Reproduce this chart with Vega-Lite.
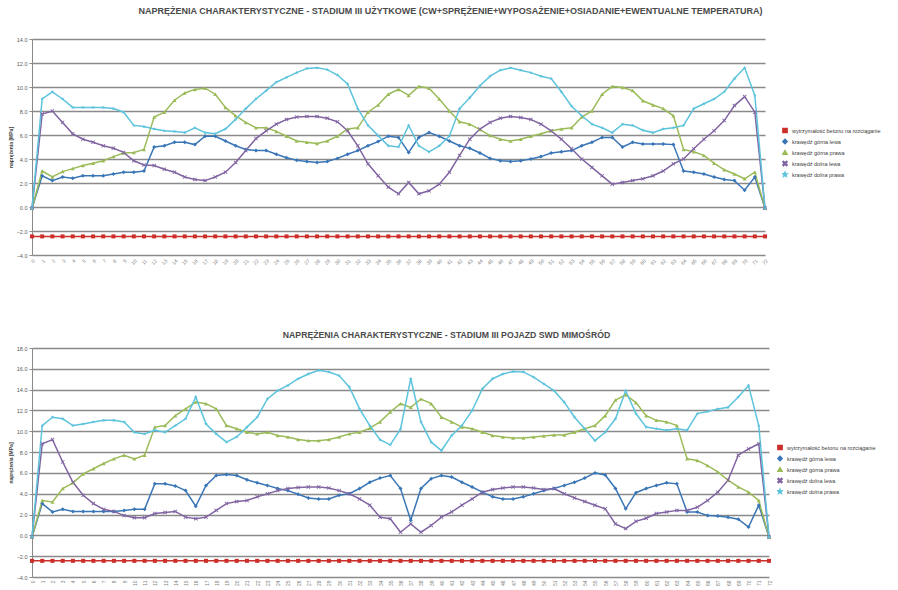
{
"$schema": "https://vega.github.io/schema/vega-lite/v6.json",
"background": "white",
"padding": {"left": 8, "top": 7, "right": 3, "bottom": 0},
"spacing": 65,
"config": {
  "view": {"stroke": null},
  "font": "Liberation Sans",
  "axis": {"labelColor": "#595959", "domainColor": "#8a8a8a", "tickColor": "#8a8a8a", "gridColor": "#8a8a8a", "gridWidth": 1.3, "titleColor": "#404040", "labelFontSize": 5.5, "tickSize": 3},
  "legend": {"labelFontSize": 5.5, "labelColor": "#404040", "symbolSize": 18, "rowPadding": 0, "labelLimit": 200, "title": null, "clipHeight": 11}
},
"resolve": {"scale": {"color": "independent", "shape": "independent"}, "legend": {"color": "independent", "shape": "independent"}},
"datasets": {
"t": [
{"x":0,"s":"a","v":-2.45},{"x":1,"s":"a","v":-2.45},{"x":2,"s":"a","v":-2.45},{"x":3,"s":"a","v":-2.45},{"x":4,"s":"a","v":-2.45},{"x":5,"s":"a","v":-2.45},{"x":6,"s":"a","v":-2.45},{"x":7,"s":"a","v":-2.45},{"x":8,"s":"a","v":-2.45},{"x":9,"s":"a","v":-2.45},
{"x":10,"s":"a","v":-2.45},{"x":11,"s":"a","v":-2.45},{"x":12,"s":"a","v":-2.45},{"x":13,"s":"a","v":-2.45},{"x":14,"s":"a","v":-2.45},{"x":15,"s":"a","v":-2.45},{"x":16,"s":"a","v":-2.45},{"x":17,"s":"a","v":-2.45},{"x":18,"s":"a","v":-2.45},{"x":19,"s":"a","v":-2.45},
{"x":20,"s":"a","v":-2.45},{"x":21,"s":"a","v":-2.45},{"x":22,"s":"a","v":-2.45},{"x":23,"s":"a","v":-2.45},{"x":24,"s":"a","v":-2.45},{"x":25,"s":"a","v":-2.45},{"x":26,"s":"a","v":-2.45},{"x":27,"s":"a","v":-2.45},{"x":28,"s":"a","v":-2.45},{"x":29,"s":"a","v":-2.45},
{"x":30,"s":"a","v":-2.45},{"x":31,"s":"a","v":-2.45},{"x":32,"s":"a","v":-2.45},{"x":33,"s":"a","v":-2.45},{"x":34,"s":"a","v":-2.45},{"x":35,"s":"a","v":-2.45},{"x":36,"s":"a","v":-2.45},{"x":37,"s":"a","v":-2.45},{"x":38,"s":"a","v":-2.45},{"x":39,"s":"a","v":-2.45},
{"x":40,"s":"a","v":-2.45},{"x":41,"s":"a","v":-2.45},{"x":42,"s":"a","v":-2.45},{"x":43,"s":"a","v":-2.45},{"x":44,"s":"a","v":-2.45},{"x":45,"s":"a","v":-2.45},{"x":46,"s":"a","v":-2.45},{"x":47,"s":"a","v":-2.45},{"x":48,"s":"a","v":-2.45},{"x":49,"s":"a","v":-2.45},
{"x":50,"s":"a","v":-2.45},{"x":51,"s":"a","v":-2.45},{"x":52,"s":"a","v":-2.45},{"x":53,"s":"a","v":-2.45},{"x":54,"s":"a","v":-2.45},{"x":55,"s":"a","v":-2.45},{"x":56,"s":"a","v":-2.45},{"x":57,"s":"a","v":-2.45},{"x":58,"s":"a","v":-2.45},{"x":59,"s":"a","v":-2.45},
{"x":60,"s":"a","v":-2.45},{"x":61,"s":"a","v":-2.45},{"x":62,"s":"a","v":-2.45},{"x":63,"s":"a","v":-2.45},{"x":64,"s":"a","v":-2.45},{"x":65,"s":"a","v":-2.45},{"x":66,"s":"a","v":-2.45},{"x":67,"s":"a","v":-2.45},{"x":68,"s":"a","v":-2.45},{"x":69,"s":"a","v":-2.45},
{"x":70,"s":"a","v":-2.45},{"x":71,"s":"a","v":-2.45},{"x":72,"s":"a","v":-2.45},
{"x":0,"s":"b","v":-0.1},{"x":1,"s":"b","v":2.6},{"x":2,"s":"b","v":2.2},{"x":3,"s":"b","v":2.5},{"x":4,"s":"b","v":2.4},{"x":5,"s":"b","v":2.6},{"x":6,"s":"b","v":2.6},{"x":7,"s":"b","v":2.6},{"x":8,"s":"b","v":2.75},{"x":9,"s":"b","v":2.9},
{"x":10,"s":"b","v":2.9},{"x":11,"s":"b","v":3.0},{"x":12,"s":"b","v":5.0},{"x":13,"s":"b","v":5.1},{"x":14,"s":"b","v":5.4},{"x":15,"s":"b","v":5.4},{"x":16,"s":"b","v":5.2},{"x":17,"s":"b","v":5.9},{"x":18,"s":"b","v":5.9},{"x":19,"s":"b","v":5.5},
{"x":20,"s":"b","v":5.1},{"x":21,"s":"b","v":4.8},{"x":22,"s":"b","v":4.7},{"x":23,"s":"b","v":4.7},{"x":24,"s":"b","v":4.4},{"x":25,"s":"b","v":4.1},{"x":26,"s":"b","v":3.9},{"x":27,"s":"b","v":3.8},{"x":28,"s":"b","v":3.7},{"x":29,"s":"b","v":3.8},
{"x":30,"s":"b","v":4.05},{"x":31,"s":"b","v":4.4},{"x":32,"s":"b","v":4.7},{"x":33,"s":"b","v":5.1},{"x":34,"s":"b","v":5.45},{"x":35,"s":"b","v":5.9},{"x":36,"s":"b","v":5.8},{"x":37,"s":"b","v":4.55},{"x":38,"s":"b","v":5.8},{"x":39,"s":"b","v":6.2},
{"x":40,"s":"b","v":5.9},{"x":41,"s":"b","v":5.5},{"x":42,"s":"b","v":5.1},{"x":43,"s":"b","v":4.9},{"x":44,"s":"b","v":4.5},{"x":45,"s":"b","v":4.05},{"x":46,"s":"b","v":3.85},{"x":47,"s":"b","v":3.8},{"x":48,"s":"b","v":3.85},{"x":49,"s":"b","v":4.0},
{"x":50,"s":"b","v":4.2},{"x":51,"s":"b","v":4.5},{"x":52,"s":"b","v":4.6},{"x":53,"s":"b","v":4.7},{"x":54,"s":"b","v":5.1},{"x":55,"s":"b","v":5.4},{"x":56,"s":"b","v":5.8},{"x":57,"s":"b","v":5.8},{"x":58,"s":"b","v":5.0},{"x":59,"s":"b","v":5.4},
{"x":60,"s":"b","v":5.25},{"x":61,"s":"b","v":5.25},{"x":62,"s":"b","v":5.25},{"x":63,"s":"b","v":5.2},{"x":64,"s":"b","v":3.0},{"x":65,"s":"b","v":2.9},{"x":66,"s":"b","v":2.75},{"x":67,"s":"b","v":2.5},{"x":68,"s":"b","v":2.3},{"x":69,"s":"b","v":2.2},
{"x":70,"s":"b","v":1.4},{"x":71,"s":"b","v":2.5},{"x":72,"s":"b","v":-0.1},
{"x":0,"s":"c","v":-0.1},{"x":1,"s":"c","v":3.0},{"x":2,"s":"c","v":2.5},{"x":3,"s":"c","v":2.95},{"x":4,"s":"c","v":3.2},{"x":5,"s":"c","v":3.45},{"x":6,"s":"c","v":3.65},{"x":7,"s":"c","v":3.85},{"x":8,"s":"c","v":4.2},{"x":9,"s":"c","v":4.5},
{"x":10,"s":"c","v":4.55},{"x":11,"s":"c","v":4.8},{"x":12,"s":"c","v":7.5},{"x":13,"s":"c","v":7.9},{"x":14,"s":"c","v":8.9},{"x":15,"s":"c","v":9.5},{"x":16,"s":"c","v":9.8},{"x":17,"s":"c","v":9.9},{"x":18,"s":"c","v":9.4},{"x":19,"s":"c","v":8.3},
{"x":20,"s":"c","v":7.6},{"x":21,"s":"c","v":7.05},{"x":22,"s":"c","v":6.6},{"x":23,"s":"c","v":6.6},{"x":24,"s":"c","v":6.3},{"x":25,"s":"c","v":5.9},{"x":26,"s":"c","v":5.5},{"x":27,"s":"c","v":5.4},{"x":28,"s":"c","v":5.3},{"x":29,"s":"c","v":5.5},
{"x":30,"s":"c","v":5.9},{"x":31,"s":"c","v":6.5},{"x":32,"s":"c","v":6.6},{"x":33,"s":"c","v":7.9},{"x":34,"s":"c","v":8.5},{"x":35,"s":"c","v":9.4},{"x":36,"s":"c","v":9.8},{"x":37,"s":"c","v":9.3},{"x":38,"s":"c","v":10.05},{"x":39,"s":"c","v":9.9},
{"x":40,"s":"c","v":9.0},{"x":41,"s":"c","v":8.0},{"x":42,"s":"c","v":7.1},{"x":43,"s":"c","v":6.9},{"x":44,"s":"c","v":6.45},{"x":45,"s":"c","v":5.95},{"x":46,"s":"c","v":5.65},{"x":47,"s":"c","v":5.5},{"x":48,"s":"c","v":5.65},{"x":49,"s":"c","v":5.9},
{"x":50,"s":"c","v":6.1},{"x":51,"s":"c","v":6.35},{"x":52,"s":"c","v":6.5},{"x":53,"s":"c","v":6.6},{"x":54,"s":"c","v":7.5},{"x":55,"s":"c","v":8.0},{"x":56,"s":"c","v":9.4},{"x":57,"s":"c","v":10.05},{"x":58,"s":"c","v":9.95},{"x":59,"s":"c","v":9.7},
{"x":60,"s":"c","v":8.85},{"x":61,"s":"c","v":8.5},{"x":62,"s":"c","v":8.2},{"x":63,"s":"c","v":7.6},{"x":64,"s":"c","v":4.8},{"x":65,"s":"c","v":4.6},{"x":66,"s":"c","v":4.3},{"x":67,"s":"c","v":3.65},{"x":68,"s":"c","v":3.1},{"x":69,"s":"c","v":2.75},
{"x":70,"s":"c","v":2.35},{"x":71,"s":"c","v":2.9},{"x":72,"s":"c","v":-0.1},
{"x":0,"s":"d","v":-0.1},{"x":1,"s":"d","v":7.75},{"x":2,"s":"d","v":8.0},{"x":3,"s":"d","v":7.05},{"x":4,"s":"d","v":6.1},{"x":5,"s":"d","v":5.65},{"x":6,"s":"d","v":5.4},{"x":7,"s":"d","v":5.1},{"x":8,"s":"d","v":4.9},{"x":9,"s":"d","v":4.55},
{"x":10,"s":"d","v":3.85},{"x":11,"s":"d","v":3.5},{"x":12,"s":"d","v":3.45},{"x":13,"s":"d","v":3.15},{"x":14,"s":"d","v":2.9},{"x":15,"s":"d","v":2.5},{"x":16,"s":"d","v":2.3},{"x":17,"s":"d","v":2.2},{"x":18,"s":"d","v":2.5},{"x":19,"s":"d","v":2.9},
{"x":20,"s":"d","v":3.7},{"x":21,"s":"d","v":4.7},{"x":22,"s":"d","v":5.7},{"x":23,"s":"d","v":6.35},{"x":24,"s":"d","v":6.9},{"x":25,"s":"d","v":7.3},{"x":26,"s":"d","v":7.5},{"x":27,"s":"d","v":7.55},{"x":28,"s":"d","v":7.55},{"x":29,"s":"d","v":7.4},
{"x":30,"s":"d","v":7.1},{"x":31,"s":"d","v":6.35},{"x":32,"s":"d","v":5.1},{"x":33,"s":"d","v":3.6},{"x":34,"s":"d","v":2.6},{"x":35,"s":"d","v":1.65},{"x":36,"s":"d","v":1.1},{"x":37,"s":"d","v":2.05},{"x":38,"s":"d","v":1.1},{"x":39,"s":"d","v":1.35},
{"x":40,"s":"d","v":1.9},{"x":41,"s":"d","v":2.9},{"x":42,"s":"d","v":4.3},{"x":43,"s":"d","v":5.65},{"x":44,"s":"d","v":6.5},{"x":45,"s":"d","v":7.05},{"x":46,"s":"d","v":7.4},{"x":47,"s":"d","v":7.55},{"x":48,"s":"d","v":7.45},{"x":49,"s":"d","v":7.3},
{"x":50,"s":"d","v":6.9},{"x":51,"s":"d","v":6.35},{"x":52,"s":"d","v":5.65},{"x":53,"s":"d","v":4.85},{"x":54,"s":"d","v":4.0},{"x":55,"s":"d","v":3.3},{"x":56,"s":"d","v":2.6},{"x":57,"s":"d","v":1.9},{"x":58,"s":"d","v":2.05},{"x":59,"s":"d","v":2.2},
{"x":60,"s":"d","v":2.35},{"x":61,"s":"d","v":2.6},{"x":62,"s":"d","v":3.0},{"x":63,"s":"d","v":3.6},{"x":64,"s":"d","v":4.0},{"x":65,"s":"d","v":4.85},{"x":66,"s":"d","v":5.65},{"x":67,"s":"d","v":6.35},{"x":68,"s":"d","v":7.2},{"x":69,"s":"d","v":8.45},
{"x":70,"s":"d","v":9.2},{"x":71,"s":"d","v":7.9},{"x":72,"s":"d","v":-0.1},
{"x":0,"s":"e","v":-0.1},{"x":1,"s":"e","v":9.0},{"x":2,"s":"e","v":9.6},{"x":3,"s":"e","v":9.0},{"x":4,"s":"e","v":8.3},{"x":5,"s":"e","v":8.3},{"x":6,"s":"e","v":8.3},{"x":7,"s":"e","v":8.3},{"x":8,"s":"e","v":8.2},{"x":9,"s":"e","v":7.9},
{"x":10,"s":"e","v":6.8},{"x":11,"s":"e","v":6.7},{"x":12,"s":"e","v":6.5},{"x":13,"s":"e","v":6.35},{"x":14,"s":"e","v":6.3},{"x":15,"s":"e","v":6.2},{"x":16,"s":"e","v":6.6},{"x":17,"s":"e","v":6.2},{"x":18,"s":"e","v":6.1},{"x":19,"s":"e","v":6.5},
{"x":20,"s":"e","v":7.3},{"x":21,"s":"e","v":8.2},{"x":22,"s":"e","v":9.0},{"x":23,"s":"e","v":9.7},{"x":24,"s":"e","v":10.4},{"x":25,"s":"e","v":10.8},{"x":26,"s":"e","v":11.2},{"x":27,"s":"e","v":11.55},{"x":28,"s":"e","v":11.6},{"x":29,"s":"e","v":11.45},
{"x":30,"s":"e","v":11.0},{"x":31,"s":"e","v":10.25},{"x":32,"s":"e","v":8.2},{"x":33,"s":"e","v":6.8},{"x":34,"s":"e","v":5.95},{"x":35,"s":"e","v":5.1},{"x":36,"s":"e","v":5.0},{"x":37,"s":"e","v":6.8},{"x":38,"s":"e","v":5.1},{"x":39,"s":"e","v":4.6},
{"x":40,"s":"e","v":5.1},{"x":41,"s":"e","v":5.9},{"x":42,"s":"e","v":8.2},{"x":43,"s":"e","v":9.1},{"x":44,"s":"e","v":10.1},{"x":45,"s":"e","v":10.9},{"x":46,"s":"e","v":11.4},{"x":47,"s":"e","v":11.6},{"x":48,"s":"e","v":11.4},{"x":49,"s":"e","v":11.2},
{"x":50,"s":"e","v":10.9},{"x":51,"s":"e","v":10.7},{"x":52,"s":"e","v":9.6},{"x":53,"s":"e","v":8.4},{"x":54,"s":"e","v":7.6},{"x":55,"s":"e","v":6.9},{"x":56,"s":"e","v":6.6},{"x":57,"s":"e","v":6.2},{"x":58,"s":"e","v":6.9},{"x":59,"s":"e","v":6.8},
{"x":60,"s":"e","v":6.4},{"x":61,"s":"e","v":6.2},{"x":62,"s":"e","v":6.5},{"x":63,"s":"e","v":6.6},{"x":64,"s":"e","v":6.8},{"x":65,"s":"e","v":8.2},{"x":66,"s":"e","v":8.6},{"x":67,"s":"e","v":9.0},{"x":68,"s":"e","v":9.6},{"x":69,"s":"e","v":10.7},
{"x":70,"s":"e","v":11.6},{"x":71,"s":"e","v":9.3},{"x":72,"s":"e","v":-0.1}
],
"b": [
{"x":0,"s":"a","v":-2.45},{"x":1,"s":"a","v":-2.45},{"x":2,"s":"a","v":-2.45},{"x":3,"s":"a","v":-2.45},{"x":4,"s":"a","v":-2.45},{"x":5,"s":"a","v":-2.45},{"x":6,"s":"a","v":-2.45},{"x":7,"s":"a","v":-2.45},{"x":8,"s":"a","v":-2.45},{"x":9,"s":"a","v":-2.45},
{"x":10,"s":"a","v":-2.45},{"x":11,"s":"a","v":-2.45},{"x":12,"s":"a","v":-2.45},{"x":13,"s":"a","v":-2.45},{"x":14,"s":"a","v":-2.45},{"x":15,"s":"a","v":-2.45},{"x":16,"s":"a","v":-2.45},{"x":17,"s":"a","v":-2.45},{"x":18,"s":"a","v":-2.45},{"x":19,"s":"a","v":-2.45},
{"x":20,"s":"a","v":-2.45},{"x":21,"s":"a","v":-2.45},{"x":22,"s":"a","v":-2.45},{"x":23,"s":"a","v":-2.45},{"x":24,"s":"a","v":-2.45},{"x":25,"s":"a","v":-2.45},{"x":26,"s":"a","v":-2.45},{"x":27,"s":"a","v":-2.45},{"x":28,"s":"a","v":-2.45},{"x":29,"s":"a","v":-2.45},
{"x":30,"s":"a","v":-2.45},{"x":31,"s":"a","v":-2.45},{"x":32,"s":"a","v":-2.45},{"x":33,"s":"a","v":-2.45},{"x":34,"s":"a","v":-2.45},{"x":35,"s":"a","v":-2.45},{"x":36,"s":"a","v":-2.45},{"x":37,"s":"a","v":-2.45},{"x":38,"s":"a","v":-2.45},{"x":39,"s":"a","v":-2.45},
{"x":40,"s":"a","v":-2.45},{"x":41,"s":"a","v":-2.45},{"x":42,"s":"a","v":-2.45},{"x":43,"s":"a","v":-2.45},{"x":44,"s":"a","v":-2.45},{"x":45,"s":"a","v":-2.45},{"x":46,"s":"a","v":-2.45},{"x":47,"s":"a","v":-2.45},{"x":48,"s":"a","v":-2.45},{"x":49,"s":"a","v":-2.45},
{"x":50,"s":"a","v":-2.45},{"x":51,"s":"a","v":-2.45},{"x":52,"s":"a","v":-2.45},{"x":53,"s":"a","v":-2.45},{"x":54,"s":"a","v":-2.45},{"x":55,"s":"a","v":-2.45},{"x":56,"s":"a","v":-2.45},{"x":57,"s":"a","v":-2.45},{"x":58,"s":"a","v":-2.45},{"x":59,"s":"a","v":-2.45},
{"x":60,"s":"a","v":-2.45},{"x":61,"s":"a","v":-2.45},{"x":62,"s":"a","v":-2.45},{"x":63,"s":"a","v":-2.45},{"x":64,"s":"a","v":-2.45},{"x":65,"s":"a","v":-2.45},{"x":66,"s":"a","v":-2.45},{"x":67,"s":"a","v":-2.45},{"x":68,"s":"a","v":-2.45},{"x":69,"s":"a","v":-2.45},
{"x":70,"s":"a","v":-2.45},{"x":71,"s":"a","v":-2.45},{"x":72,"s":"a","v":-2.45},
{"x":0,"s":"b","v":-0.15},{"x":1,"s":"b","v":3.05},{"x":2,"s":"b","v":2.25},{"x":3,"s":"b","v":2.5},{"x":4,"s":"b","v":2.3},{"x":5,"s":"b","v":2.3},{"x":6,"s":"b","v":2.3},{"x":7,"s":"b","v":2.3},{"x":8,"s":"b","v":2.3},{"x":9,"s":"b","v":2.4},
{"x":10,"s":"b","v":2.5},{"x":11,"s":"b","v":2.5},{"x":12,"s":"b","v":4.95},{"x":13,"s":"b","v":4.95},{"x":14,"s":"b","v":4.75},{"x":15,"s":"b","v":4.3},{"x":16,"s":"b","v":2.8},{"x":17,"s":"b","v":4.8},{"x":18,"s":"b","v":5.75},{"x":19,"s":"b","v":5.85},
{"x":20,"s":"b","v":5.75},{"x":21,"s":"b","v":5.35},{"x":22,"s":"b","v":5.05},{"x":23,"s":"b","v":4.8},{"x":24,"s":"b","v":4.5},{"x":25,"s":"b","v":4.3},{"x":26,"s":"b","v":3.95},{"x":27,"s":"b","v":3.6},{"x":28,"s":"b","v":3.5},{"x":29,"s":"b","v":3.5},
{"x":30,"s":"b","v":3.85},{"x":31,"s":"b","v":4.0},{"x":32,"s":"b","v":4.5},{"x":33,"s":"b","v":5.1},{"x":34,"s":"b","v":5.5},{"x":35,"s":"b","v":5.75},{"x":36,"s":"b","v":4.5},{"x":37,"s":"b","v":1.45},{"x":38,"s":"b","v":4.5},{"x":39,"s":"b","v":5.45},
{"x":40,"s":"b","v":5.75},{"x":41,"s":"b","v":5.6},{"x":42,"s":"b","v":5.1},{"x":43,"s":"b","v":4.65},{"x":44,"s":"b","v":4.15},{"x":45,"s":"b","v":3.7},{"x":46,"s":"b","v":3.5},{"x":47,"s":"b","v":3.5},{"x":48,"s":"b","v":3.7},{"x":49,"s":"b","v":4.0},
{"x":50,"s":"b","v":4.3},{"x":51,"s":"b","v":4.5},{"x":52,"s":"b","v":4.8},{"x":53,"s":"b","v":5.1},{"x":54,"s":"b","v":5.5},{"x":55,"s":"b","v":6.0},{"x":56,"s":"b","v":5.8},{"x":57,"s":"b","v":4.5},{"x":58,"s":"b","v":2.55},{"x":59,"s":"b","v":4.1},
{"x":60,"s":"b","v":4.5},{"x":61,"s":"b","v":4.8},{"x":62,"s":"b","v":5.05},{"x":63,"s":"b","v":4.95},{"x":64,"s":"b","v":2.25},{"x":65,"s":"b","v":2.25},{"x":66,"s":"b","v":1.9},{"x":67,"s":"b","v":1.85},{"x":68,"s":"b","v":1.75},{"x":69,"s":"b","v":1.55},
{"x":70,"s":"b","v":0.8},{"x":71,"s":"b","v":2.9},{"x":72,"s":"b","v":-0.15},
{"x":0,"s":"c","v":-0.15},{"x":1,"s":"c","v":3.35},{"x":2,"s":"c","v":3.2},{"x":3,"s":"c","v":4.5},{"x":4,"s":"c","v":5.05},{"x":5,"s":"c","v":5.9},{"x":6,"s":"c","v":6.4},{"x":7,"s":"c","v":6.9},{"x":8,"s":"c","v":7.35},{"x":9,"s":"c","v":7.7},
{"x":10,"s":"c","v":7.35},{"x":11,"s":"c","v":7.7},{"x":12,"s":"c","v":10.4},{"x":13,"s":"c","v":10.55},{"x":14,"s":"c","v":11.5},{"x":15,"s":"c","v":12.15},{"x":16,"s":"c","v":12.8},{"x":17,"s":"c","v":12.65},{"x":18,"s":"c","v":12.15},{"x":19,"s":"c","v":10.55},
{"x":20,"s":"c","v":10.25},{"x":21,"s":"c","v":9.9},{"x":22,"s":"c","v":9.75},{"x":23,"s":"c","v":9.9},{"x":24,"s":"c","v":9.6},{"x":25,"s":"c","v":9.45},{"x":26,"s":"c","v":9.2},{"x":27,"s":"c","v":9.1},{"x":28,"s":"c","v":9.1},{"x":29,"s":"c","v":9.2},
{"x":30,"s":"c","v":9.45},{"x":31,"s":"c","v":9.75},{"x":32,"s":"c","v":9.9},{"x":33,"s":"c","v":10.3},{"x":34,"s":"c","v":10.9},{"x":35,"s":"c","v":11.85},{"x":36,"s":"c","v":12.65},{"x":37,"s":"c","v":12.3},{"x":38,"s":"c","v":13.1},{"x":39,"s":"c","v":12.65},
{"x":40,"s":"c","v":11.35},{"x":41,"s":"c","v":10.9},{"x":42,"s":"c","v":10.4},{"x":43,"s":"c","v":10.25},{"x":44,"s":"c","v":9.9},{"x":45,"s":"c","v":9.6},{"x":46,"s":"c","v":9.45},{"x":47,"s":"c","v":9.35},{"x":48,"s":"c","v":9.35},{"x":49,"s":"c","v":9.45},
{"x":50,"s":"c","v":9.55},{"x":51,"s":"c","v":9.65},{"x":52,"s":"c","v":9.65},{"x":53,"s":"c","v":9.9},{"x":54,"s":"c","v":10.25},{"x":55,"s":"c","v":10.55},{"x":56,"s":"c","v":11.5},{"x":57,"s":"c","v":13.0},{"x":58,"s":"c","v":13.5},{"x":59,"s":"c","v":12.75},
{"x":60,"s":"c","v":11.5},{"x":61,"s":"c","v":11.05},{"x":62,"s":"c","v":10.9},{"x":63,"s":"c","v":10.55},{"x":64,"s":"c","v":7.35},{"x":65,"s":"c","v":7.2},{"x":66,"s":"c","v":6.7},{"x":67,"s":"c","v":6.1},{"x":68,"s":"c","v":5.3},{"x":69,"s":"c","v":4.65},
{"x":70,"s":"c","v":4.15},{"x":71,"s":"c","v":3.35},{"x":72,"s":"c","v":-0.15},
{"x":0,"s":"d","v":-0.15},{"x":1,"s":"d","v":8.8},{"x":2,"s":"d","v":9.2},{"x":3,"s":"d","v":7.05},{"x":4,"s":"d","v":5.1},{"x":5,"s":"d","v":3.85},{"x":6,"s":"d","v":3.05},{"x":7,"s":"d","v":2.5},{"x":8,"s":"d","v":2.3},{"x":9,"s":"d","v":1.9},
{"x":10,"s":"d","v":1.7},{"x":11,"s":"d","v":1.7},{"x":12,"s":"d","v":2.1},{"x":13,"s":"d","v":2.2},{"x":14,"s":"d","v":2.3},{"x":15,"s":"d","v":1.75},{"x":16,"s":"d","v":1.6},{"x":17,"s":"d","v":1.75},{"x":18,"s":"d","v":2.4},{"x":19,"s":"d","v":3.05},
{"x":20,"s":"d","v":3.25},{"x":21,"s":"d","v":3.35},{"x":22,"s":"d","v":3.7},{"x":23,"s":"d","v":4.0},{"x":24,"s":"d","v":4.3},{"x":25,"s":"d","v":4.5},{"x":26,"s":"d","v":4.6},{"x":27,"s":"d","v":4.65},{"x":28,"s":"d","v":4.65},{"x":29,"s":"d","v":4.55},
{"x":30,"s":"d","v":4.3},{"x":31,"s":"d","v":4.0},{"x":32,"s":"d","v":3.5},{"x":33,"s":"d","v":2.9},{"x":34,"s":"d","v":1.75},{"x":35,"s":"d","v":1.6},{"x":36,"s":"d","v":0.3},{"x":37,"s":"d","v":1.1},{"x":38,"s":"d","v":0.3},{"x":39,"s":"d","v":0.95},
{"x":40,"s":"d","v":1.75},{"x":41,"s":"d","v":2.25},{"x":42,"s":"d","v":2.9},{"x":43,"s":"d","v":3.5},{"x":44,"s":"d","v":4.15},{"x":45,"s":"d","v":4.4},{"x":46,"s":"d","v":4.55},{"x":47,"s":"d","v":4.65},{"x":48,"s":"d","v":4.65},{"x":49,"s":"d","v":4.55},
{"x":50,"s":"d","v":4.4},{"x":51,"s":"d","v":4.5},{"x":52,"s":"d","v":4.0},{"x":53,"s":"d","v":3.6},{"x":54,"s":"d","v":3.25},{"x":55,"s":"d","v":2.9},{"x":56,"s":"d","v":2.55},{"x":57,"s":"d","v":1.1},{"x":58,"s":"d","v":0.65},{"x":59,"s":"d","v":1.35},
{"x":60,"s":"d","v":1.65},{"x":61,"s":"d","v":2.1},{"x":62,"s":"d","v":2.25},{"x":63,"s":"d","v":2.4},{"x":64,"s":"d","v":2.4},{"x":65,"s":"d","v":2.7},{"x":66,"s":"d","v":3.35},{"x":67,"s":"d","v":4.15},{"x":68,"s":"d","v":5.3},{"x":69,"s":"d","v":7.7},
{"x":70,"s":"d","v":8.3},{"x":71,"s":"d","v":8.8},{"x":72,"s":"d","v":-0.15},
{"x":0,"s":"e","v":-0.15},{"x":1,"s":"e","v":10.55},{"x":2,"s":"e","v":11.35},{"x":3,"s":"e","v":11.2},{"x":4,"s":"e","v":10.55},{"x":5,"s":"e","v":10.7},{"x":6,"s":"e","v":10.9},{"x":7,"s":"e","v":11.05},{"x":8,"s":"e","v":11.05},{"x":9,"s":"e","v":10.9},
{"x":10,"s":"e","v":9.9},{"x":11,"s":"e","v":9.75},{"x":12,"s":"e","v":10.1},{"x":13,"s":"e","v":9.9},{"x":14,"s":"e","v":10.55},{"x":15,"s":"e","v":11.2},{"x":16,"s":"e","v":13.3},{"x":17,"s":"e","v":10.7},{"x":18,"s":"e","v":9.75},{"x":19,"s":"e","v":8.95},
{"x":20,"s":"e","v":9.45},{"x":21,"s":"e","v":10.4},{"x":22,"s":"e","v":11.35},{"x":23,"s":"e","v":13.1},{"x":24,"s":"e","v":13.9},{"x":25,"s":"e","v":14.4},{"x":26,"s":"e","v":15.05},{"x":27,"s":"e","v":15.5},{"x":28,"s":"e","v":15.85},{"x":29,"s":"e","v":15.7},
{"x":30,"s":"e","v":15.35},{"x":31,"s":"e","v":14.25},{"x":32,"s":"e","v":12.15},{"x":33,"s":"e","v":10.55},{"x":34,"s":"e","v":9.2},{"x":35,"s":"e","v":8.7},{"x":36,"s":"e","v":10.2},{"x":37,"s":"e","v":15.05},{"x":38,"s":"e","v":10.9},{"x":39,"s":"e","v":8.95},
{"x":40,"s":"e","v":8.15},{"x":41,"s":"e","v":9.6},{"x":42,"s":"e","v":10.55},{"x":43,"s":"e","v":12.0},{"x":44,"s":"e","v":14.1},{"x":45,"s":"e","v":15.05},{"x":46,"s":"e","v":15.5},{"x":47,"s":"e","v":15.75},{"x":48,"s":"e","v":15.7},{"x":49,"s":"e","v":15.2},
{"x":50,"s":"e","v":14.55},{"x":51,"s":"e","v":13.9},{"x":52,"s":"e","v":12.8},{"x":53,"s":"e","v":11.35},{"x":54,"s":"e","v":10.25},{"x":55,"s":"e","v":9.1},{"x":56,"s":"e","v":9.9},{"x":57,"s":"e","v":11.2},{"x":58,"s":"e","v":13.9},{"x":59,"s":"e","v":11.7},
{"x":60,"s":"e","v":10.4},{"x":61,"s":"e","v":10.25},{"x":62,"s":"e","v":10.1},{"x":63,"s":"e","v":10.25},{"x":64,"s":"e","v":10.1},{"x":65,"s":"e","v":11.7},{"x":66,"s":"e","v":11.9},{"x":67,"s":"e","v":12.15},{"x":68,"s":"e","v":12.3},{"x":69,"s":"e","v":13.3},
{"x":70,"s":"e","v":14.4},{"x":71,"s":"e","v":10.55},{"x":72,"s":"e","v":-0.15}
]
},
"vconcat": [
{
  "title": {"text": "NAPRĘŻENIA CHARAKTERYSTYCZNE - STADIUM III UŻYTKOWE (CW+SPRĘŻENIE+WYPOSAŻENIE+OSIADANIE+EWENTUALNE TEMPERATURA)", "font": "Liberation Sans", "fontSize": 9, "fontWeight": "bold", "color": "#4a4a4a", "offset": 21, "dx": 52},
  "width": 733, "height": 216,
  "data": {"name": "t"},
  "encoding": {
    "x": {"field": "x", "type": "ordinal", "scale": {"type": "point", "padding": 0}, "axis": {"title": null, "labelAngle": -45, "labelFontSize": 5, "labelColor": "#808080", "domain": false, "ticks": false, "labelPadding": 3}},
    "y": {"field": "v", "type": "quantitative", "scale": {"domain": [-4, 14], "nice": false}, "axis": {"values": [-4,-2,0,2,4,6,8,10,12,14], "format": ".1f", "title": "naprężenia [MPa]", "titleFontSize": 5, "titleFontWeight": "bold", "titlePadding": 3, "labelPadding": 2}},
    "color": {"field": "s", "type": "nominal", "scale": {"domain": ["a","b","c","d","e"], "range": ["#cc2f2a","#3a76b6","#9bbb59","#8064a2","#5cc3dc"]}, "legend": {"orient": "none", "legendX": 750, "legendY": 86, "labelExpr": "datum.label == 'a' ? 'wytrzymałość betonu na rozciąganie' : datum.label == 'b' ? 'krawędź górna lewa' : datum.label == 'c' ? 'krawędź górna prawa' : datum.label == 'd' ? 'krawędź dolna lewa' : 'krawędź dolna prawa'"}}
  },
  "layer": [
    {"mark": {"type": "line", "strokeWidth": 1.5}},
    {"mark": {"type": "point", "filled": true, "size": 16, "opacity": 1},
     "encoding": {"shape": {"field": "s", "type": "nominal", "scale": {"domain": ["a","b","c","d","e"], "range": ["square","diamond","triangle-up","M-1,-0.7L-0.7,-1L0,-0.3L0.7,-1L1,-0.7L0.3,0L1,0.7L0.7,1L0,0.3L-0.7,1L-1,0.7L-0.3,0Z","M0,-1L0.24,-0.33L0.95,-0.31L0.39,0.13L0.59,0.81L0,0.4L-0.59,0.81L-0.39,0.13L-0.95,-0.31L-0.24,-0.33Z"]}, "legend": {"orient": "none", "legendX": 750, "legendY": 86, "labelExpr": "datum.label == 'a' ? 'wytrzymałość betonu na rozciąganie' : datum.label == 'b' ? 'krawędź górna lewa' : datum.label == 'c' ? 'krawędź górna prawa' : datum.label == 'd' ? 'krawędź dolna lewa' : 'krawędź dolna prawa'"}}}}
  ]
},
{
  "title": {"text": "NAPRĘŻENIA CHARAKTERYSTYCZNE - STADIUM III POJAZD SWD MIMOŚRÓD", "font": "Liberation Sans", "fontSize": 8.7, "fontWeight": "bold", "color": "#4a4a4a", "offset": 6, "dx": 46},
  "width": 737, "height": 229,
  "data": {"name": "b"},
  "encoding": {
    "x": {"field": "x", "type": "ordinal", "scale": {"type": "point", "padding": 0}, "axis": {"title": null, "labelAngle": -90, "labelFontSize": 5, "labelColor": "#808080", "domain": false, "ticks": false, "labelPadding": 3}},
    "y": {"field": "v", "type": "quantitative", "scale": {"domain": [-4, 18], "nice": false}, "axis": {"values": [-4,-2,0,2,4,6,8,10,12,14,16,18], "format": ".1f", "title": "naprężenia [MPa]", "titleFontSize": 5, "titleFontWeight": "bold", "titlePadding": 3, "labelPadding": 2}},
    "color": {"field": "s", "type": "nominal", "scale": {"domain": ["a","b","c","d","e"], "range": ["#cc2f2a","#3a76b6","#9bbb59","#8064a2","#5cc3dc"]}, "legend": {"orient": "none", "legendX": 745, "legendY": 94, "labelExpr": "datum.label == 'a' ? 'wytrzymałość betonu na rozciąganie' : datum.label == 'b' ? 'krawędź górna lewa' : datum.label == 'c' ? 'krawędź górna prawa' : datum.label == 'd' ? 'krawędź dolna lewa' : 'krawędź dolna prawa'"}}
  },
  "layer": [
    {"mark": {"type": "line", "strokeWidth": 1.5}},
    {"mark": {"type": "point", "filled": true, "size": 16, "opacity": 1},
     "encoding": {"shape": {"field": "s", "type": "nominal", "scale": {"domain": ["a","b","c","d","e"], "range": ["square","diamond","triangle-up","M-1,-0.7L-0.7,-1L0,-0.3L0.7,-1L1,-0.7L0.3,0L1,0.7L0.7,1L0,0.3L-0.7,1L-1,0.7L-0.3,0Z","M0,-1L0.24,-0.33L0.95,-0.31L0.39,0.13L0.59,0.81L0,0.4L-0.59,0.81L-0.39,0.13L-0.95,-0.31L-0.24,-0.33Z"]}, "legend": {"orient": "none", "legendX": 745, "legendY": 94, "labelExpr": "datum.label == 'a' ? 'wytrzymałość betonu na rozciąganie' : datum.label == 'b' ? 'krawędź górna lewa' : datum.label == 'c' ? 'krawędź górna prawa' : datum.label == 'd' ? 'krawędź dolna lewa' : 'krawędź dolna prawa'"}}}}
  ]
}
]
}
